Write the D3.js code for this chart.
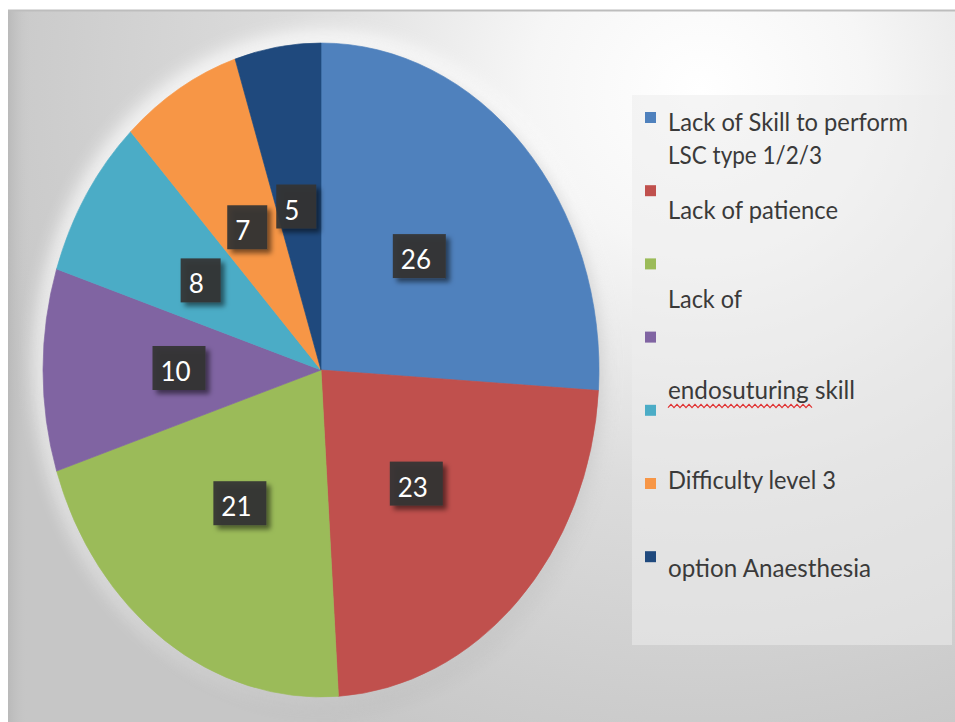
<!DOCTYPE html>
<html>
<head>
<meta charset="utf-8">
<script src="https://cdn.jsdelivr.net/npm/d3@7"></script>
<style>
  html, body { margin: 0; padding: 0; background: #fff; }
  svg { display: block; }
</style>
</head>
<body>
<svg id="chart" width="955" height="722"></svg>
<script>
// ---- data ----
const categories = [
  "Lack of Skill to perform LSC type 1/2/3",
  "Lack of patience",
  "Lack of endosuturing skill",
  "Category 4",
  "Category 5",
  "Difficulty level 3",
  "option Anaesthesia"
];
const values = [26, 23, 21, 10, 8, 7, 5];
const colors = ["#4f81bd", "#c0504d", "#9bbb59", "#8064a2", "#4bacc6", "#f79646", "#1f497d"];
const legendLines = [
  "Lack of Skill to perform",
  "LSC type 1/2/3",
  "Lack of patience",
  "Lack of",
  "endosuturing skill",
  "Difficulty level 3",
  "option Anaesthesia"
];

// ---- layout ----
const W = 955, H = 722;
const cx = 321, cy = 370, rx = 278, ry = 327;
const ky = ry / rx;
const legendX = 645, legendTextX = 668;
const markerY0 = 112, markerStep = 73.2;
const legendLineY = [131, 164, 219, 308, 399, 489, 577];
const legendLineW = [240, 154, 170, 74, 187, 168, 203];

const svg = d3.select("#chart");
const defs = svg.append("defs");

const bg = defs.append("radialGradient").attr("id", "bg")
  .attr("gradientUnits", "userSpaceOnUse")
  .attr("cx", 700).attr("cy", 90).attr("r", 760)
  .attr("gradientTransform", "translate(700,90) scale(1,0.95) translate(-700,-90)");
bg.append("stop").attr("offset", "0%").attr("stop-color", "#ffffff");
bg.append("stop").attr("offset", "22%").attr("stop-color", "#f6f6f6");
bg.append("stop").attr("offset", "55%").attr("stop-color", "#dcdcdc");
bg.append("stop").attr("offset", "85%").attr("stop-color", "#cdcdcd");
bg.append("stop").attr("offset", "100%").attr("stop-color", "#c6c6c6");

const leftShade = defs.append("linearGradient").attr("id", "leftShade")
  .attr("x1", 0).attr("x2", 1).attr("y1", 0).attr("y2", 0);
leftShade.append("stop").attr("offset", "0%").attr("stop-color", "#b8b8b8").attr("stop-opacity", 0.9);
leftShade.append("stop").attr("offset", "100%").attr("stop-color", "#c8c8c8").attr("stop-opacity", 0);

const blurBig = defs.append("filter").attr("id", "blurBig")
  .attr("x", "-20%").attr("y", "-20%").attr("width", "140%").attr("height", "140%");
blurBig.append("feGaussianBlur").attr("stdDeviation", 9);

const boxShadow = defs.append("filter").attr("id", "boxShadow")
  .attr("x", "-30%").attr("y", "-30%").attr("width", "170%").attr("height", "170%");
boxShadow.append("feDropShadow").attr("dx", 4).attr("dy", 4).attr("stdDeviation", 2.5)
  .attr("flood-color", "#000").attr("flood-opacity", 0.55);

// background
svg.append("rect").attr("x", 0).attr("y", 0).attr("width", W).attr("height", H).attr("fill", "#fff");
svg.append("rect").attr("x", 8).attr("y", 10).attr("width", W - 8).attr("height", H - 10).attr("fill", "url(#bg)");
svg.append("rect").attr("x", 8).attr("y", 10).attr("width", 22).attr("height", H - 10).attr("fill", "url(#leftShade)");
svg.append("line").attr("x1", 8).attr("x2", W).attr("y1", 10.5).attr("y2", 10.5)
  .attr("stroke", "#bdbdbd").attr("stroke-width", 2);

// legend box
svg.append("rect").attr("x", 632).attr("y", 95).attr("width", 320).attr("height", 550)
  .attr("fill", "#ececec").attr("fill-opacity", 0.55);

// pie glow & shadow
svg.append("ellipse").attr("cx", cx).attr("cy", cy - 4).attr("rx", rx + 8).attr("ry", ry + 8)
  .attr("fill", "#ffffff").attr("opacity", 0.8).attr("filter", "url(#blurBig)");
svg.append("ellipse").attr("cx", cx + 6).attr("cy", cy + 10).attr("rx", rx).attr("ry", ry)
  .attr("fill", "#9a9a9a").attr("opacity", 0.45).attr("filter", "url(#blurBig)");

// pie
const pie = d3.pie().sort(null).value(d => d)(values);
const arc = d3.arc().innerRadius(0).outerRadius(rx);
const g = svg.append("g").attr("transform", `translate(${cx},${cy}) scale(1,${ky})`);
g.selectAll("path").data(pie).join("path")
  .attr("d", arc)
  .attr("fill", (d, i) => colors[i])
  .attr("stroke", (d, i) => colors[i])
  .attr("stroke-width", 0.6);

// data labels
const labels = svg.append("g");
pie.forEach((d, i) => {
  const c = arc.centroid(d);
  const x = cx + c[0], y = cy + c[1] * ky;
  const txt = String(values[i]);
  const w = txt.length === 1 ? 40 : 53;
  const h = 44;
  const lg = labels.append("g");
  lg.append("rect")
    .attr("x", x - w / 2 - 3).attr("y", y - h / 2 - 2)
    .attr("width", w).attr("height", h)
    .attr("fill", "#353535").attr("fill-opacity", 0.93)
    .attr("filter", "url(#boxShadow)");
  lg.append("text")
    .attr("x", x - w / 2 + 5).attr("y", y + 11)
    .attr("font-family", "Lato, 'Open Sans', sans-serif")
    .attr("font-size", 26)
    .attr("fill", "#ffffff")
    .text(txt);
});

// legend markers
const leg = svg.append("g");
values.forEach((v, i) => {
  leg.append("rect")
    .attr("x", legendX).attr("y", markerY0 + i * markerStep)
    .attr("width", 11).attr("height", 11)
    .attr("fill", colors[i]);
});
legendLines.forEach((t, i) => {
  leg.append("text")
    .attr("x", legendTextX).attr("y", legendLineY[i])
    .attr("font-family", "Lato, 'Open Sans', sans-serif")
    .attr("font-size", 24.5)
    .attr("fill", "#3a3a3a")
    .attr("textLength", legendLineW[i])
    .attr("lengthAdjust", "spacingAndGlyphs")
    .text(t);
});

// spell-check squiggle under "endosuturing"
const sq = d3.range(668, 813, 3).map((x, k) => [x, 406 + (k % 2 ? -1.6 : 1.6)]);
leg.append("path").attr("d", d3.line()(sq))
  .attr("fill", "none").attr("stroke", "#e03030").attr("stroke-width", 1.2);
</script>
</body>
</html>
